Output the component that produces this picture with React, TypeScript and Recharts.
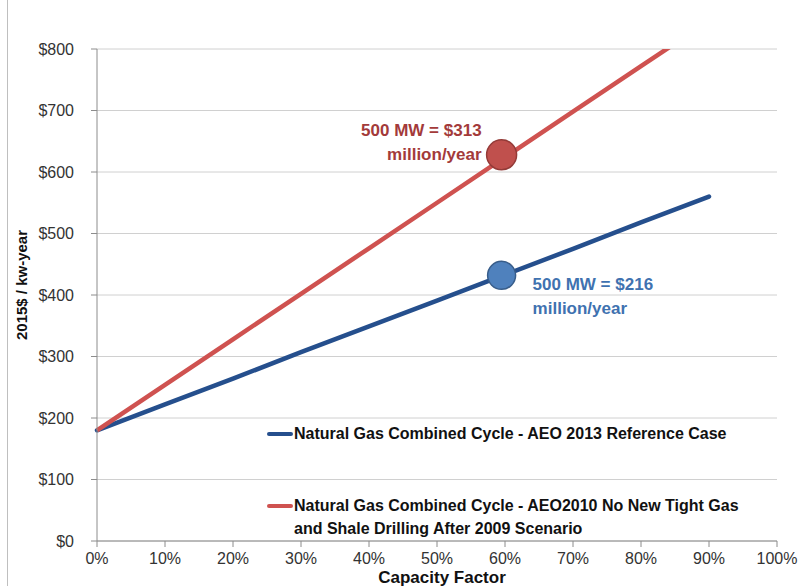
import React from 'react';
import {
  LineChart,
  Line,
  XAxis,
  YAxis,
  CartesianGrid,
  Legend,
  ReferenceDot,
} from 'recharts';

// capacity factor (%) and cost (2015$ / kw-year)
const capacityFactor = [0, 10, 20, 30, 40, 50, 60, 70, 80, 90];
const aeo2013 = [180, 222, 264, 307, 349, 391, 433, 475, 518, 560];
const aeo2010 = [180, 254, 328, 402, 476, 550, 624, 698, 772, 846];

const xTicks = [0, 10, 20, 30, 40, 50, 60, 70, 80, 90, 100];
const yTicks = [0, 100, 200, 300, 400, 500, 600, 700, 800];

const marker2013 = { x: 59.5, y: 432, text: ['500 MW = $216', 'million/year'] };
const marker2010 = { x: 59.5, y: 628, text: ['500 MW = $313', 'million/year'] };

const seriesNames = [
  'Natural Gas Combined Cycle - AEO 2013 Reference Case',
  'Natural Gas Combined Cycle - AEO2010 No New Tight Gas and Shale Drilling After 2009 Scenario',
];

const BLUE = '#254F8D';
const RED = '#CF5250';
const FONT = '"Liberation Sans", Arial, sans-serif';

const data = capacityFactor.map((cf, i) => ({
  cf,
  aeo2013: aeo2013[i],
  aeo2010: aeo2010[i],
}));

const LegendBox = () => (
  <div style={{ fontFamily: FONT, fontWeight: 700, fontSize: 16, color: '#111' }}>
    <div style={{ position: 'absolute', left: 0, top: 0, display: 'flex', alignItems: 'center', whiteSpace: 'nowrap', height: 20 }}>
      <span style={{ width: 26, height: 4, background: BLUE, borderRadius: 2, marginRight: 1 }} />
      <span>{seriesNames[0]}</span>
    </div>
    <div style={{ position: 'absolute', left: 0, top: 70, display: 'flex', alignItems: 'flex-start', width: 520 }}>
      <span style={{ width: 26, height: 4, background: RED, borderRadius: 2, marginRight: 1, marginTop: 10, flexShrink: 0 }} />
      <span style={{ lineHeight: '23px', whiteSpace: 'nowrap' }}>
        Natural Gas Combined Cycle - AEO2010 No New Tight Gas
        <br />
        and Shale Drilling After 2009 Scenario
      </span>
    </div>
  </div>
);

const makeNote = (lines: string[], color: string, dx: number, dy: number, anchor: 'start' | 'end') =>
  (props: any) => {
    const vb = props.viewBox || {};
    const cx = vb.x + (vb.width || 0) / 2;
    const cy = vb.y + (vb.height || 0) / 2;
    return (
      <g>
        {lines.map((t, i) => (
          <text
            key={i}
            x={cx + dx}
            y={cy + dy + i * 24}
            textAnchor={anchor}
            dominantBaseline="central"
            fill={color}
            fontFamily={FONT}
            fontWeight={700}
            fontSize={17}
          >
            {t}
          </text>
        ))}
      </g>
    );
  };

export default function App() {
  return (
    <div style={{ position: 'absolute', left: 0, top: 0, width: 798, height: 586, background: '#fff', overflow: 'hidden' }}>
      <div style={{ position: 'absolute', left: 7, top: 0, width: 1, height: 586, background: '#bfbfbf' }} />
      <LineChart
        width={798}
        height={586}
        data={data}
        margin={{ top: 49, right: 21, bottom: 0, left: 0 }}
      >
        <CartesianGrid vertical={false} stroke="#d0d0d0" strokeWidth={1} />
        <XAxis
          dataKey="cf"
          type="number"
          domain={[0, 100]}
          ticks={xTicks}
          tickFormatter={(v) => `${v}%`}
          height={45}
          tickSize={6}
          tickMargin={6}
          stroke="#8c8c8c"
          tick={{ fill: '#333', fontSize: 16, fontFamily: FONT }}
          interval={0}
          label={{
            content: (p: any) => (
              <text
                x={p.viewBox.x + p.viewBox.width / 2 + 5}
                y={p.viewBox.y + 36}
                textAnchor="middle"
                dominantBaseline="central"
                fontFamily={FONT}
                fontWeight={700}
                fontSize={17}
                fill="#111"
              >
                Capacity Factor
              </text>
            ),
          }}
        />
        <YAxis
          domain={[0, 800]}
          ticks={yTicks}
          allowDataOverflow
          width={97}
          tickSize={6}
          tickMargin={17}
          stroke="#8c8c8c"
          tickFormatter={(v) => `$${v}`}
          tick={{ fill: '#333', fontSize: 16, fontFamily: FONT }}
          interval={0}
          label={{
            content: (p: any) => {
              const cy = p.viewBox.y + p.viewBox.height / 2 - 10;
              return (
                <text
                  x={21}
                  y={cy}
                  transform={`rotate(-90 21 ${cy})`}
                  textAnchor="middle"
                  dominantBaseline="central"
                  fontFamily={FONT}
                  fontWeight={700}
                  fontSize={15}
                  fill="#111"
                >
                  2015$ / kw-year
                </text>
              );
            },
          }}
        />
        <Legend
          layout="horizontal"
          verticalAlign="middle"
          align="center"
          content={() => <LegendBox />}
          wrapperStyle={{ position: 'absolute', left: 267, top: 424, width: 520, height: 110 }}
        />
        <Line
          dataKey="aeo2013"
          name={seriesNames[0]}
          stroke={BLUE}
          strokeWidth={4.5}
          dot={false}
          strokeLinecap="round"
          isAnimationActive={false}
        />
        <Line
          dataKey="aeo2010"
          name={seriesNames[1]}
          stroke={RED}
          strokeWidth={4.5}
          dot={false}
          isAnimationActive={false}
        />
        <ReferenceDot
          x={marker2013.x}
          y={marker2013.y}
          r={14}
          fill="#4F81BD"
          stroke="#385D8A"
          strokeWidth={1.5}
          label={{ content: makeNote(marker2013.text, '#3F72B0', 31, 9, 'start') }}
        />
        <ReferenceDot
          x={marker2010.x}
          y={marker2010.y}
          r={15}
          fill="#C0504D"
          stroke="#943B38"
          strokeWidth={1.5}
          label={{ content: makeNote(marker2010.text, '#A33A3A', -20, -24, 'end') }}
        />
      </LineChart>
    </div>
  );
}
